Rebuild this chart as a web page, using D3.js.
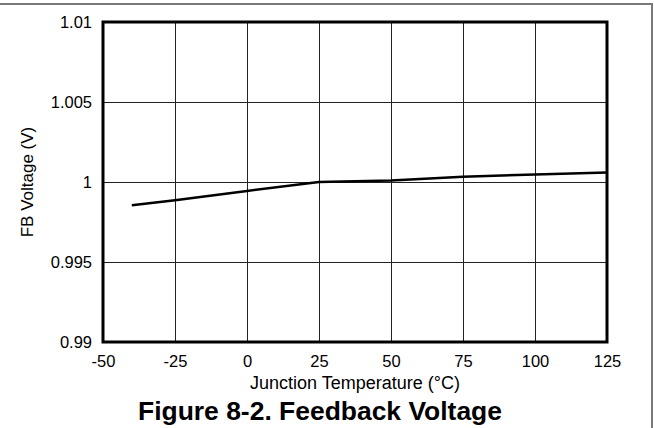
<!DOCTYPE html>
<html>
<head>
<meta charset="utf-8">
<script src="https://cdn.jsdelivr.net/npm/d3@7"></script>
<style>
html,body{margin:0;padding:0;background:#fff;}
svg{display:block;}
text{font-family:"Liberation Sans",Arial,Helvetica,sans-serif;fill:#000;}
</style>
</head>
<body>
<svg id="chart" width="654" height="428"></svg>
<script>
// Data
const temperatures = [-40, -25, 0, 25, 50, 75, 100, 125];
const fbVoltage    = [0.99854, 0.99886, 0.99944, 1.0000, 1.0001, 1.00033, 1.00047, 1.0006];
const xTicks = [-50, -25, 0, 25, 50, 75, 100, 125];
const yTicks = [0.99, 0.995, 1, 1.005, 1.01];
const xTitle = "Junction Temperature (°C)";
const yTitle = "FB Voltage (V)";
const figTitle = "Figure 8-2. Feedback Voltage";

const svg = d3.select("#chart");
const m = {left:103, right:607, top:22, bottom:342};
const FONT = '"Liberation Sans",Arial,Helvetica,sans-serif';

// outer border
svg.append("rect").attr("x", -2).attr("y", 4).attr("width", 654).attr("height", 440)
  .attr("fill", "none").attr("stroke", "#7a7a7a").attr("stroke-width", 2);

const x = d3.scaleLinear().domain([-50, 125]).range([m.left, m.right]);
const y = d3.scaleLinear().domain([0.99, 1.01]).range([m.bottom, m.top]);

// gridlines
const g = svg.append("g");
g.selectAll(".vg").data(xTicks.slice(1, -1)).enter().append("line")
  .attr("x1", d => Math.round(x(d)) + 0.5).attr("x2", d => Math.round(x(d)) + 0.5)
  .attr("y1", m.top).attr("y2", m.bottom)
  .attr("stroke", "#222").attr("stroke-width", 1);
g.selectAll(".hg").data(yTicks.slice(1, -1)).enter().append("line")
  .attr("y1", d => Math.round(y(d)) + 0.5).attr("y2", d => Math.round(y(d)) + 0.5)
  .attr("x1", m.left).attr("x2", m.right)
  .attr("stroke", "#222").attr("stroke-width", 1);

// data line
const line = d3.line().x((d, i) => x(temperatures[i])).y(d => y(d));
svg.append("path").datum(fbVoltage).attr("d", line)
  .attr("fill", "none").attr("stroke", "#000").attr("stroke-width", 2.5);

// frame
svg.append("rect").attr("x", m.left).attr("y", m.top)
  .attr("width", m.right - m.left).attr("height", m.bottom - m.top)
  .attr("fill", "none").attr("stroke", "#000").attr("stroke-width", 3);

// axes (tick labels via d3 axes)
const xAxis = d3.axisBottom(x).tickValues(xTicks).tickSize(0).tickPadding(0).tickFormat(d => String(d));
const yAxis = d3.axisLeft(y).tickValues(yTicks).tickSize(0).tickPadding(0).tickFormat(d => String(+d.toFixed(3)));

const xg = svg.append("g").attr("transform", `translate(0,${m.bottom})`).call(xAxis);
const yg = svg.append("g").attr("transform", `translate(${m.left - 11},0)`).call(yAxis);
[xg, yg].forEach(a => { a.select(".domain").remove(); a.attr("font-family", null).attr("font-size", null); });

xg.selectAll(".tick text").attr("y", 25).attr("dy", 0)
  .style("font-size", "16.5px").style("font-family", FONT).attr("fill", "#000");
yg.selectAll(".tick text").attr("x", 0).attr("dy", "0.35em")
  .style("font-size", "16.5px").style("font-family", FONT).attr("fill", "#000");

// axis titles
svg.append("text").attr("x", (m.left + m.right) / 2).attr("y", 389)
  .attr("text-anchor", "middle").style("font-size", "18px").text(xTitle);
svg.append("text").attr("transform", `translate(33,${(m.top + m.bottom) / 2}) rotate(-90)`)
  .attr("text-anchor", "middle").style("font-size", "17px").text(yTitle);

// figure title
svg.append("text").attr("x", 320).attr("y", 420)
  .attr("text-anchor", "middle").style("font-size", "25px").style("font-weight", "bold")
  .attr("textLength", 364).attr("lengthAdjust", "spacingAndGlyphs").text(figTitle);
</script>
</body>
</html>
